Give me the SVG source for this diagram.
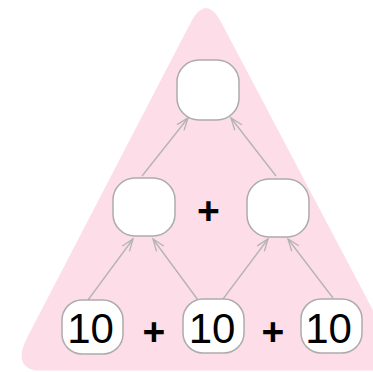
<svg xmlns="http://www.w3.org/2000/svg" width="373" height="372" viewBox="0 0 373 372">
<style>
.node{fill:#fff;stroke:#acacac;stroke-width:1.5}
.num{font-family:"Liberation Sans",Arial,sans-serif;font-size:42px;fill:#000;text-anchor:middle}
.op{font-family:"Liberation Sans",Arial,sans-serif;font-size:39px;font-weight:bold;fill:#000;text-anchor:middle}
.edge{stroke:#b3b3b3;stroke-width:1.3;fill:none;marker-end:url(#arr)}
</style>
<defs>
<marker id="arr" markerUnits="userSpaceOnUse" markerWidth="20" markerHeight="20" refX="0" refY="0" orient="auto" overflow="visible">
<path d="M-12,-4.5 L0,0 L-12,4.5" fill="none" stroke="#b3b3b3" stroke-width="1.3"/>
</marker>
</defs>
<path id="bg" d="M191,22 Q206,-6 221,22 L376,316 L376,370.5 L36,370.5 Q12,366 28,336 Z" fill="#fcdde8"/>
<g id="connectors">
<line class="edge" x1="88" y1="300" x2="133" y2="239"/>
<line class="edge" x1="198" y1="300" x2="153" y2="239"/>
<line class="edge" x1="223" y1="299" x2="268" y2="239"/>
<line class="edge" x1="333" y1="298" x2="288" y2="239"/>
<line class="edge" x1="142" y1="176" x2="188" y2="118"/>
<line class="edge" x1="276" y1="176" x2="231" y2="118"/>
</g>
<g id="top"><rect class="node" x="177" y="60" width="62" height="60" rx="22"/></g>
<g id="midLeft"><rect class="node" x="113" y="178" width="62" height="58" rx="22"/></g>
<g id="midRight"><rect class="node" x="247" y="179" width="62" height="58" rx="22"/></g>
<g id="plusMid"><text class="op" x="208.5" y="224">+</text></g>
<g id="botLeft"><rect class="node" x="62" y="300" width="61" height="54" rx="20"/><text class="num" x="90.5" y="343">10</text></g>
<g id="plus1"><text class="op" x="154" y="345">+</text></g>
<g id="botMid"><rect class="node" x="183" y="299" width="61" height="54" rx="20"/><text class="num" x="212" y="343">10</text></g>
<g id="plus2"><text class="op" x="273" y="345">+</text></g>
<g id="botRight"><rect class="node" x="301" y="299" width="61" height="54" rx="20"/><text class="num" x="328.5" y="343">10</text></g>
</svg>
